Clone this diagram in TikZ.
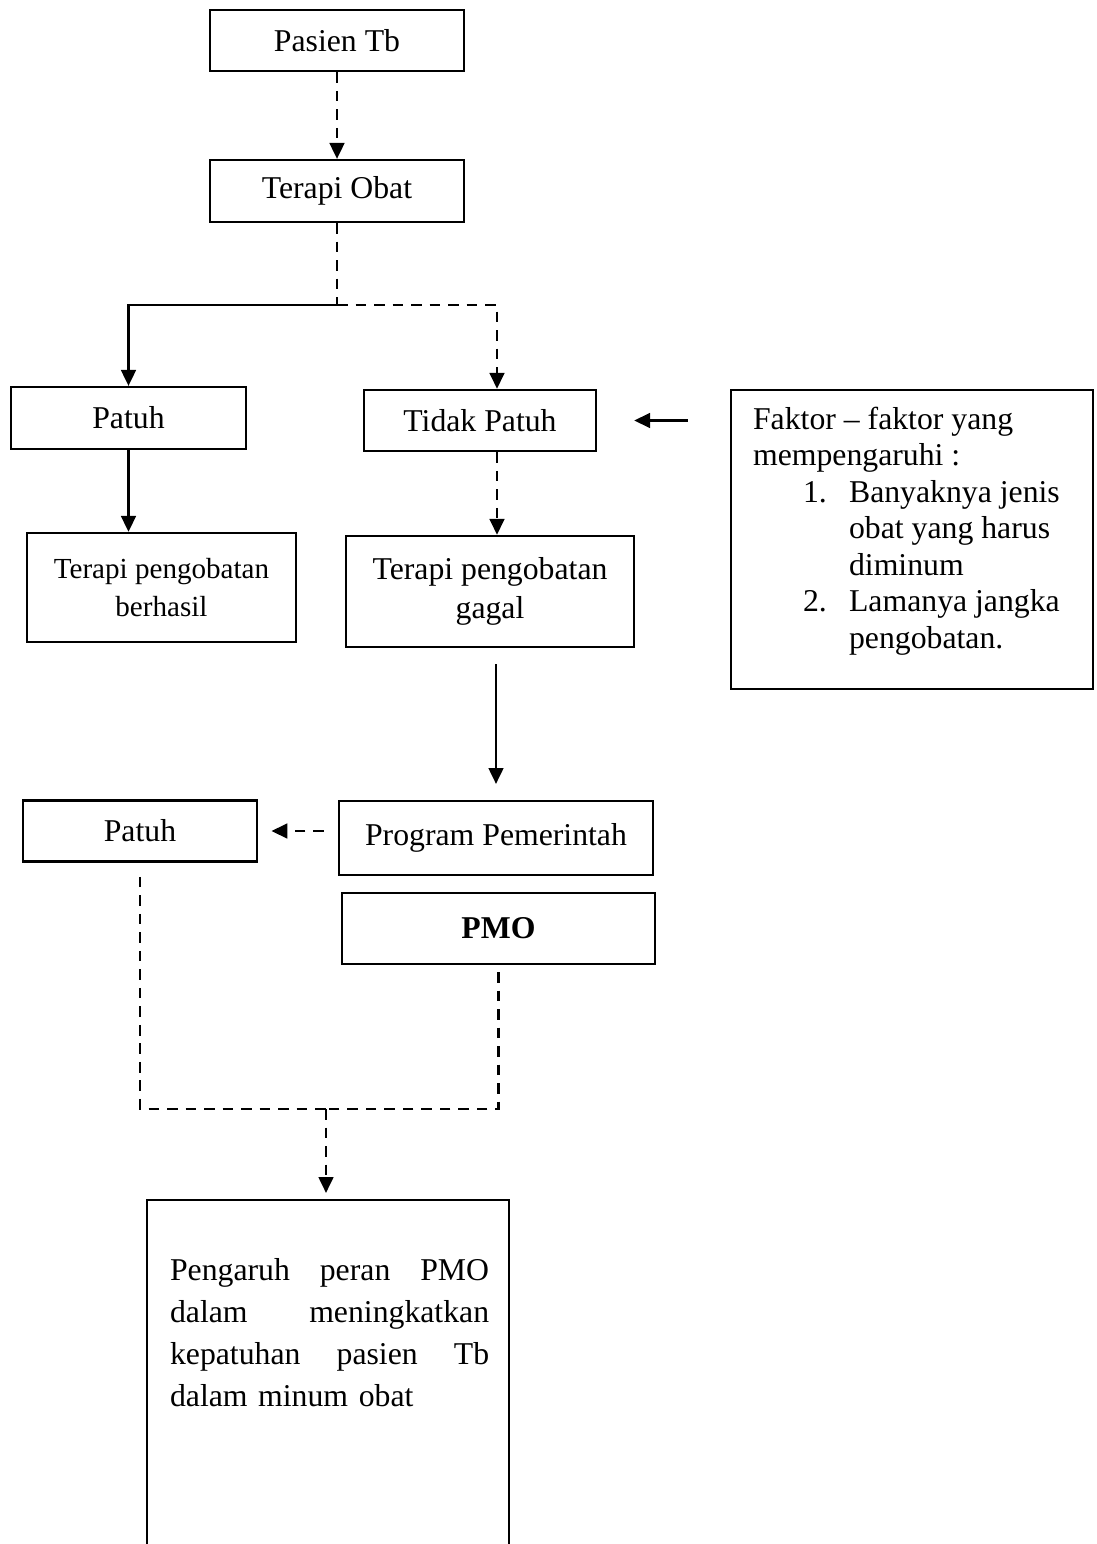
\documentclass[tikz,border=0pt]{standalone}
\usepackage{fontspec}
\setmainfont{Liberation Serif}
\usetikzlibrary{arrows.meta}
\begin{document}
\begin{tikzpicture}[x=0.378pt,y=-0.378pt,
    box/.style={draw,line width=0.9pt,rectangle,inner sep=0pt,align=center,font=\fontsize{12}{15}\selectfont},
    tip/.style={-{Triangle[length=6pt,width=5.6pt]}},
    dsh/.style={dash pattern=on 4pt off 3pt},
    every path/.style={line width=0.8pt}]
  \useasboundingbox (0,0) rectangle (1096,1544);
  \node[box,minimum width=96pt,minimum height=23.1pt] (pasien) at (337,40.5) {Pasien Tb};
  \node[box,minimum width=96pt,minimum height=23.4pt] (obat) at (337,191) {Terapi Obat};
  \node[box,minimum width=88.8pt,minimum height=23.4pt] (patuhA) at (128.5,418) {Patuh};
  \node[box,minimum width=87.7pt,minimum height=23.1pt] (tidak) at (480,420.5) {Tidak Patuh};
  \node[box,minimum width=101.7pt,minimum height=41.2pt,font=\fontsize{11}{14.7}\selectfont] (berhasil) at (161.5,587.5) {Terapi pengobatan\\berhasil};
  \node[box,minimum width=108.9pt,minimum height=42pt] (gagal) at (490,591.5) {Terapi pengobatan\\gagal};
  \node[box,minimum width=136.8pt,minimum height=113pt] (faktor) at (912,539.5) {};
  \node[anchor=north west,inner sep=0pt,align=left,font=\fontsize{12}{13.8}\selectfont] (faktorteks) at (752,406)
    {Faktor -- faktor yang\\
     mempengaruhi :\\
     \hspace*{18.9pt}\makebox[17.4pt][l]{1.}Banyaknya jenis\\
     \hspace*{36.3pt}obat yang harus\\
     \hspace*{36.3pt}diminum\\
     \hspace*{18.9pt}\makebox[17.4pt][l]{2.}Lamanya jangka\\
     \hspace*{36.3pt}pengobatan.};
  \node[box,minimum width=118.7pt,minimum height=28pt] (program) at (496,838) {Program Pemerintah};
  \node[box,minimum width=118.3pt,minimum height=26.8pt] (pmo) at (498.5,928.5) {\textbf{PMO}};
  \node[box,minimum width=88.5pt,minimum height=23.1pt] (patuhB) at (140,831) {Patuh};
  \node[box,minimum width=136.8pt,minimum height=151pt,anchor=north] (hasil) at (328,1199) {};
  \node[anchor=north west,inner sep=0pt,text width=120.6pt,align=left,font=\fontsize{12}{15.9}\selectfont] (hasilteks) at (169,1257)
    {\makebox[120.6pt]{Pengaruh\hfill peran\hfill PMO}\\
     \makebox[120.6pt]{dalam\hfill meningkatkan}\\
     \makebox[120.6pt]{kepatuhan\hfill pasien\hfill Tb}\\
     dalam minum obat};
  \coordinate (split) at (337,305);
  \coordinate (kanan) at (497,305);
  \coordinate (gabung) at (326,1109);
  \draw[dsh,tip] (pasien.south) -- (obat.north);
  \draw[dsh] (obat.south) -- (split);
  \draw[tip] (split) -| (patuhA.north);
  \draw[dsh,tip] (split) -| (tidak.north -| kanan);
  \draw[tip] (patuhA.south) -- (patuhA.south |- berhasil.north);
  \draw[dsh,tip] (tidak.south -| kanan) -- (gagal.north -| kanan);
  \draw[tip,shorten <=15.9pt,shorten >=14pt] (faktor.west |- tidak.east) -- (tidak.east);
  \draw[tip,shorten <=6pt,shorten >=6pt] (program.north |- gagal.south) -- (program.north);
  \draw[dsh,tip,shorten <=5.3pt,shorten >=5pt] (program.west |- patuhB.east) -- (patuhB.east);
  \draw[dsh,shorten <=5.3pt] (patuhB.south) |- (gabung);
  \draw[dsh,shorten <=2.6pt] (pmo.south) |- (gabung);
  \draw[dsh,tip,shorten >=2.3pt] (gabung) -- (gabung |- hasil.north);
\end{tikzpicture}
\end{document}
